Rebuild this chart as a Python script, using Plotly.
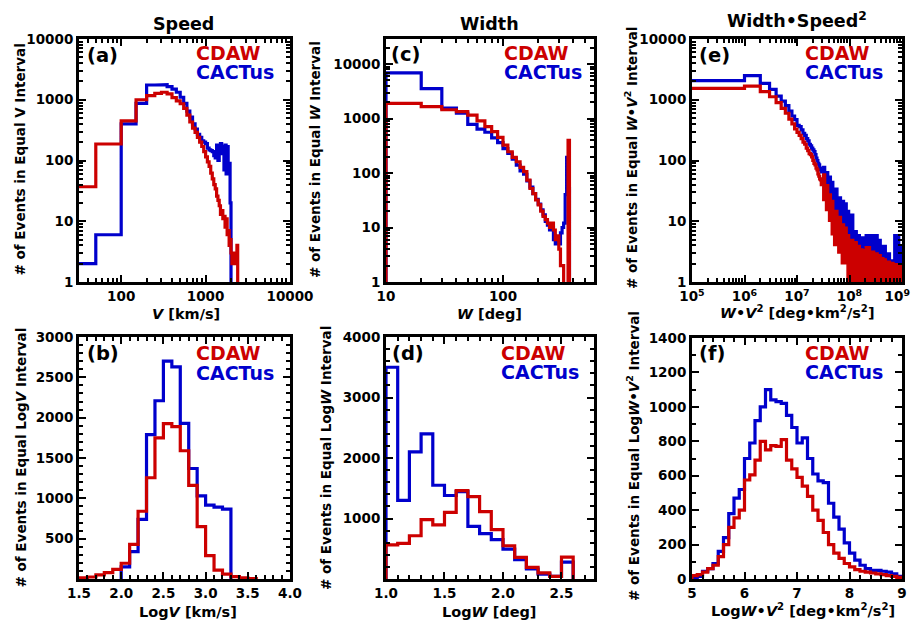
import numpy as np
import plotly.graph_objects as go

W, H = 912, 627
def fx(p): return p / W
def fy(p): return 1 - p / H

RED = 'rgb(204,0,0)'
BLUE = 'rgb(0,0,204)'
FONT = 'DejaVu Sans'
LW = 3.2
LOGZERO = 1e-3

# ---------------- data ----------------
# (a) counts in equal V intervals (50 km/s bins starting at 0)
v_bin = 50
cdaw_v = [37, 187, 450, 1000, 1170, 1270, 1330, 1250, 1080, 960, 860, 720, 560, 430, 340,
          290, 240, 200, 170, 140, 115, 95, 80, 62, 50, 40, 34, 26, 22, 18, 13, 15, 11, 12, 8,
          11, 6, 7, 4, 5, 3, 2, 3, 2, 3, 2, 2, 4]
cactus_v = [2, 6, 400, 870, 1750, 1750, 1780, 1650, 1500, 1330, 1100, 870, 650, 520, 400,
            330, 270, 240, 210, 200, 190, 160, 150, 145, 140, 120, 110, 180, 100, 160,
            190, 130, 170, 70, 180, 60, 170, 60, 90, 20]

# (b) counts in equal LogV intervals (0.1 bins)
cdaw_logv_start = 1.5
cdaw_logv = [15, 25, 50, 80, 120, 195, 430, 840, 1255, 1750, 1925, 1890, 1590, 1160, 650,
             290, 110, 60, 30, 15, 5]
cactus_logv_start = 2.0
cactus_logv = [150, 340, 740, 1790, 2210, 2700, 2630, 1930, 1370, 1030, 915, 890, 865]
logv_bin = 0.1

# (c) counts in equal W intervals (10 deg bins starting at 10 deg)
w_start = 10
w_bin = 10
cdaw_w = [1900, 1650, 1450, 1335, 1160, 910, 710, 573, 450, 326, 246, 194, 161, 127, 106,
          74, 52, 42, 32, 26, 20, 16, 14, 12, 10, 12, 9, 6, 7, 4, 2, 2, 0, 0, 0, 400]
cactus_w = [6900, 3550, 1550, 1250, 780, 640, 560, 440, 360, 280, 230, 180, 140, 110, 95,
            72, 55, 42, 33, 27, 21, 17, 13, 11, 9, 10, 6, 5, 6, 5, 8, 10, 12, 40, 195, 52]

# (d) counts in equal LogW intervals (0.1 bins starting at 1.0)
logw_start = 1.0
logw_bin = 0.1
cdaw_logw = [565, 590, 715, 980, 895, 1100, 1460, 1360, 1115, 815, 550, 357, 192, 100, 45, 360]
cactus_logw = [3500, 1300, 2100, 2400, 1550, 1380, 1445, 870, 750, 650, 495, 320, 165, 80, 45, 280]

# (e) counts in equal W*V^2 intervals (1e6 bins), resolved part up to 3e7
wv2_bin = 1e6
cdaw_wv2 = [1540, 1680, 1360, 1120, 900, 720, 600, 480, 400, 330, 290, 260, 230, 200, 185,
            160, 145, 130, 125, 115, 100, 90, 85, 75, 70, 60, 55, 50, 48, 40]
cactus_wv2 = [2060, 2490, 1860, 1480, 1150, 950, 800, 650, 540, 470, 380, 360, 320, 280, 260,
              230, 210, 185, 175, 160, 150, 140, 125, 110, 100, 90, 85, 75, 70, 65]
# densely packed (unresolved) bins beyond 3e7: range of counts within each interval
wv2_dense_edges = [3e7, 3.5e7, 4e7, 4.5e7, 5e7, 6e7, 7e7, 8e7, 9e7, 1e8, 1.2e8, 1.4e8, 1.6e8,
                   1.8e8, 2e8, 2.5e8, 3e8, 3.5e8, 4e8, 4.5e8, 5e8, 6e8, 7e8, 8e8, 9e8, 1e9]
cdaw_dense_max = [60, 40, 28, 22, 15, 12, 9, 8, 6, 5, 4.6, 4, 3.5, 3.4, 3.8, 3.2, 3, 2.8, 2.5,
                  2.4, 2.2, 2.1, 2, 2, 2]
cdaw_dense_min = [22, 15, 10, 6, 4, 3, 2, 2, 1, 0, 0, 0, 0, 0, 0, 0, 0, 0, 0, 0, 0, 0, 0, 0, 0]
cactus_dense_max = [80, 65, 55, 45, 35, 25, 22, 20, 15, 13, 7, 6, 5.5, 5.5, 6, 6, 6, 5, 4, 4,
                    3, 2.3, 6, 6, 4]
cactus_dense_min = [40, 30, 20, 15, 10, 8, 5, 4, 3, 2, 1, 0, 0, 0, 0, 0, 0, 0, 0, 0, 0, 0, 0, 0, 0]

# (f) counts in equal Log(W*V^2) intervals (0.1 bins starting at 5.0)
logwv2_start = 5.0
logwv2_bin = 0.1
cdaw_logwv2 = [20, 25, 40, 60, 80, 130, 200, 300, 355, 400, 575, 605, 690, 800, 750, 775, 770,
               810, 690, 640, 590, 540, 480, 400, 340, 270, 200, 150, 120, 90, 70, 55, 45, 40,
               35, 30, 25, 20, 15, 10]
cactus_logwv2 = [10, 15, 45, 60, 90, 160, 240, 380, 470, 520, 700, 790, 920, 1000, 1100, 1040,
                 1030, 1020, 950, 880, 790, 820, 700, 610, 570, 560, 440, 360, 290, 210, 150,
                 110, 80, 60, 50, 50, 45, 40, 30, 15]


# ---------------- helpers ----------------
def edges_from(start, width, n):
    return [start + width * i for i in range(n + 1)]


def steps(edges, counts, log=False, drop_start=True, drop_end=True):
    z = LOGZERO if log else 0
    xs, ys = [], []
    if drop_start:
        xs.append(edges[0]); ys.append(z)
    for i, c in enumerate(counts):
        c = c if (c > 0 or not log) else z
        xs += [edges[i], edges[i + 1]]
        ys += [c, c]
    if drop_end:
        xs.append(edges[-1]); ys.append(z)
    return xs, ys


def band(edges, lo, hi):
    xs, ys = [], []
    for i in range(len(hi)):
        xs += [edges[i], edges[i + 1]]
        ys += [hi[i], hi[i]]
    for i in reversed(range(len(lo))):
        v = lo[i] if lo[i] > 0 else LOGZERO
        xs += [edges[i + 1], edges[i]]
        ys += [v, v]
    return xs, ys


fig = go.Figure()


def add_line(xs, ys, color, xa, ya):
    fig.add_trace(go.Scatter(x=xs, y=ys, mode='lines', line=dict(color=color, width=LW),
                             xaxis=xa, yaxis=ya, hoverinfo='skip'))


# (a)
e_a_red = edges_from(0, v_bin, len(cdaw_v)); e_a_red[0] = 1
e_a_blue = edges_from(0, v_bin, len(cactus_v)); e_a_blue[0] = 1
add_line(*steps(e_a_blue, cactus_v, log=True), BLUE, 'x', 'y')
add_line(*steps(e_a_red, cdaw_v, log=True), RED, 'x', 'y')

# (b)
add_line(*steps(edges_from(cactus_logv_start, logv_bin, len(cactus_logv)), cactus_logv), BLUE, 'x2', 'y2')
add_line(*steps(edges_from(cdaw_logv_start, logv_bin, len(cdaw_logv)), cdaw_logv), RED, 'x2', 'y2')

# (c)
add_line(*steps(edges_from(w_start, w_bin, len(cactus_w)), cactus_w, log=True), BLUE, 'x3', 'y3')
add_line(*steps(edges_from(w_start, w_bin, len(cdaw_w)), cdaw_w, log=True), RED, 'x3', 'y3')

# (d)
add_line(*steps(edges_from(logw_start, logw_bin, len(cactus_logw)), cactus_logw), BLUE, 'x4', 'y4')
add_line(*steps(edges_from(logw_start, logw_bin, len(cdaw_logw)), cdaw_logw), RED, 'x4', 'y4')

# (e)
for counts, lo, hi, col in [(cactus_wv2, cactus_dense_min, cactus_dense_max, BLUE),
                            (cdaw_wv2, cdaw_dense_min, cdaw_dense_max, RED)]:
    ed = edges_from(0, wv2_bin, len(counts)); ed[0] = 1e4
    add_line(*steps(ed, counts, log=True, drop_end=False), col, 'x5', 'y5')
    bx, by = band(wv2_dense_edges, lo, hi)
    fig.add_trace(go.Scatter(x=bx, y=by, mode='lines', fill='toself', fillcolor=col,
                             line=dict(color=col, width=1.5), xaxis='x5', yaxis='y5',
                             hoverinfo='skip'))

# (f)
add_line(*steps(edges_from(logwv2_start, logwv2_bin, len(cactus_logwv2)), cactus_logwv2), BLUE, 'x6', 'y6')
add_line(*steps(edges_from(logwv2_start, logwv2_bin, len(cdaw_logwv2)), cdaw_logwv2), RED, 'x6', 'y6')

# ---------------- axes ----------------
TICKFONT = dict(family=FONT, size=13.5, color='black', weight='bold')


def axis(dom, rng, typ='linear', tickvals=None, ticktext=None, minor_vals=None, is_x=True,
         anchor=None):
    d = dict(domain=dom, range=rng, type=typ, showline=True, linecolor='black', linewidth=3,
             mirror='allticks', ticks='inside', ticklen=7, tickwidth=2, tickcolor='black',
             showgrid=False, zeroline=False, tickfont=TICKFONT, anchor=anchor,
             tickmode='array', tickvals=tickvals, automargin=False, ticklabeloverflow='allow')
    if ticktext is not None:
        d['ticktext'] = ticktext
    if minor_vals is not None:
        d['minor'] = dict(tickmode='array', tickvals=minor_vals, ticks='inside', ticklen=4,
                          tickwidth=1.5, tickcolor='black', showgrid=False)
    return d


def logminor(decades):
    out = []
    for d in decades:
        out += [k * 10 ** d for k in range(2, 10)]
    return out


X_A = [fx(79), fx(290)]
X_C = [fx(386), fx(594)]
X_E = [fx(692), fx(902)]
Y_TOP = [fy(282), fy(39)]
Y_BOT = [fy(579), fy(337)]

lay = dict(
    width=W, height=H, margin=dict(l=0, r=0, t=0, b=0, autoexpand=False), showlegend=False,
    paper_bgcolor='white', plot_bgcolor='white',
    xaxis=axis(X_A, [1.5, 4.0], 'log', [100, 1000, 10000], ['100', '1000', '10000'],
               logminor([1, 2, 3]), True, 'y'),
    yaxis=axis(Y_TOP, [0, 4], 'log', [1, 10, 100, 1000, 10000],
               ['1', '10', '100', '1000', '10000'], logminor([0, 1, 2, 3]), False, 'x'),
    xaxis2=axis(X_A, [1.5, 4.0], 'linear', [1.5, 2.0, 2.5, 3.0, 3.5, 4.0],
                ['1.5', '2.0', '2.5', '3.0', '3.5', '4.0'],
                [round(1.5 + 0.1 * i, 2) for i in range(26)], True, 'y2'),
    yaxis2=axis(Y_BOT, [0, 3000], 'linear', [500, 1000, 1500, 2000, 2500, 3000], None,
                [100 * i for i in range(31)], False, 'x2'),
    xaxis3=axis(X_C, [1, 2.778], 'log', [10, 100], ['10', '100'],
                logminor([1, 2])[:12], True, 'y3'),
    yaxis3=axis(Y_TOP, [0, 4.46], 'log', [1, 10, 100, 1000, 10000],
                ['1', '10', '100', '1000', '10000'], logminor([0, 1, 2, 3]) + [20000], False, 'x3'),
    xaxis4=axis(X_C, [1.0, 2.778], 'linear', [1.0, 1.5, 2.0, 2.5], ['1.0', '1.5', '2.0', '2.5'],
                [round(1.0 + 0.1 * i, 2) for i in range(18)], True, 'y4'),
    yaxis4=axis(Y_BOT, [0, 4000], 'linear', [1000, 2000, 3000, 4000], None,
                [200 * i for i in range(21)], False, 'x4'),
    xaxis5=axis(X_E, [5, 9], 'log', [1e5, 1e6, 1e7, 1e8, 1e9],
                ['10<sup>5</sup>', '10<sup>6</sup>', '10<sup>7</sup>', '10<sup>8</sup>',
                 '10<sup>9</sup>\u00a0\u00a0'],
                logminor([5, 6, 7, 8]), True, 'y5'),
    yaxis5=axis(Y_TOP, [0, 4], 'log', [1, 10, 100, 1000, 10000],
                ['1', '10', '100', '1000', '10000'], logminor([0, 1, 2, 3]), False, 'x5'),
    xaxis6=axis(X_E, [5, 9], 'linear', [5, 6, 7, 8, 9], None,
                [round(5 + 0.2 * i, 2) for i in range(21)], True, 'y6'),
    yaxis6=axis([fy(579), fy(338)], [0, 1400], 'linear', [0, 200, 400, 600, 800, 1000, 1200, 1400],
                None, [100 * i for i in range(15)], False, 'x6'),
)
fig.update_layout(**lay)

# ---------------- annotations ----------------
ann = []


def text(t, x, y, size, color='black', xanchor='center', yanchor='middle', angle=0):
    ann.append(dict(text=t, x=fx(x), y=fy(y), xref='paper', yref='paper', showarrow=False,
                    xanchor=xanchor, yanchor=yanchor, textangle=angle,
                    font=dict(family=FONT, size=size, color=color, weight='bold')))


# column titles
text('Speed', 183, 24, 17.5)
text('Width', 490, 24, 17.5)
text('Width•Speed<sup>2</sup>', 797, 20, 17.5)

# panel labels and legends
panels = [('(a)', 85, 55, 194, 53, 72), ('(c)', 389, 54, 502, 53, 72), ('(e)', 697, 55, 803, 53, 72),
          ('(b)', 85, 353, 194, 353, 373), ('(d)', 390, 353, 499, 353, 372), ('(f)', 697, 353, 803, 353, 372)]
for lab, lx, ly, gx, gy1, gy2 in panels:
    text(lab, lx, ly, 19.5, xanchor='left')
    text('CDAW', gx, gy1, 19, RED, xanchor='left')
    text('CACTus', gx, gy2, 19, BLUE, xanchor='left')

# x axis titles
text('<i>V</i> [km/s]', 186, 314, 14.5)
text('<i>W</i> [deg]', 490, 314, 14.5)
text('<i>W</i>•<i>V</i><sup>2</sup> [deg•km<sup>2</sup>/s<sup>2</sup>]', 797, 312, 14.5)
text('Log<i>V</i> [km/s]', 188, 612, 14.5)
text('Log<i>W</i> [deg]', 490, 612, 14.5)
text('Log<i>W</i>•<i>V</i><sup>2</sup> [deg•km<sup>2</sup>/s<sup>2</sup>]', 803, 610, 14.5)

# y axis titles
text('# of Events in Equal V Interval', 19.5, 160, 13.5, angle=-90)
text('# of Events in Equal <i>W</i> Interval', 315, 160, 13.5, angle=-90)
text('# of Events in Equal <i>W</i>•<i>V</i><sup>2</sup> Interval', 631, 158, 13.5, angle=-90)
text('# of Events in Equal Log<i>V</i> Interval', 20.5, 458, 13.5, angle=-90)
text('# of Events in Equal Log<i>W</i> Interval', 326, 458, 13.5, angle=-90)
text('# of Events in Equal Log<i>W</i>•<i>V</i><sup>2</sup> Interval', 633, 456, 13.5, angle=-90)

fig.update_layout(annotations=ann)
fig.write_html('out.html', config={'displayModeBar': False},
               post_script="document.body.style.margin='0px';document.body.style.overflow='hidden';")
